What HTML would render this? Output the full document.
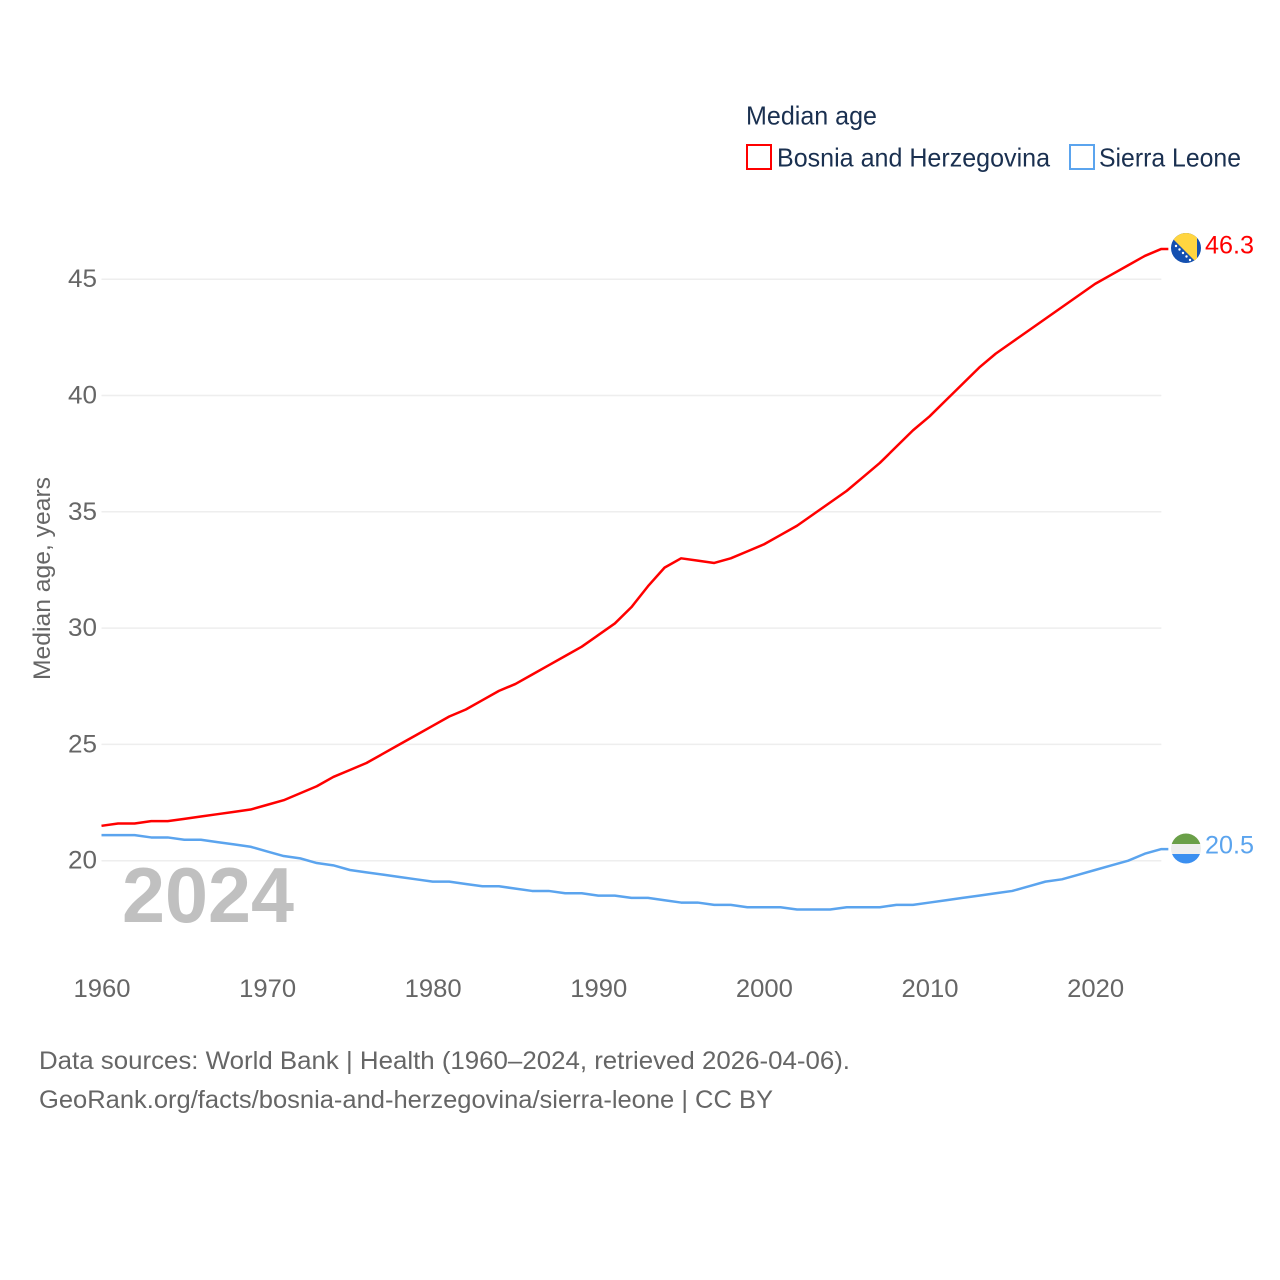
<!DOCTYPE html>
<html lang="en">
<head>
<meta charset="utf-8">
<title>Median age: Bosnia and Herzegovina and Sierra Leone</title>
<style>
html,body{margin:0;padding:0;background:#fff;}
svg{display:block;font-family:"Liberation Sans",sans-serif;}
</style>
</head>
<body>
<svg id="chart" width="1280" height="1280" viewBox="0 0 1280 1280" xmlns="http://www.w3.org/2000/svg">
  <defs>
    <clipPath id="clip-ba"><circle cx="1186" cy="248" r="15"/></clipPath>
    <clipPath id="clip-sl"><circle cx="1186" cy="848.5" r="15"/></clipPath>
  </defs>
  <rect width="1280" height="1280" fill="#ffffff"/>

  <text x="746" y="124.500" font-size="26" fill="#1a3050" textLength="131" lengthAdjust="spacingAndGlyphs">Median age</text>
  <g>
    <rect x="747" y="145" width="24" height="24" fill="none" stroke="#ff0000" stroke-width="2"/>
    <text x="777" y="166.500" font-size="26" fill="#1a3050" textLength="273" lengthAdjust="spacingAndGlyphs">Bosnia and Herzegovina</text>
  </g>
  <g>
    <rect x="1070" y="145" width="24" height="24" fill="none" stroke="#5ba4ee" stroke-width="2"/>
    <text x="1099" y="166.500" font-size="26" fill="#1a3050" textLength="142" lengthAdjust="spacingAndGlyphs">Sierra Leone</text>
  </g>

  <text transform="translate(50,680) rotate(-90)" x="0" y="0" font-size="24" fill="#666666" textLength="203" lengthAdjust="spacingAndGlyphs">Median age, years</text>

  <g id="grid"></g>
  <g id="y-ticks"></g>
  <g id="x-ticks"></g>

  <text x="122" y="922" font-size="78" font-weight="700" fill="#c0c0c0" textLength="172" lengthAdjust="spacingAndGlyphs">2024</text>

  <g id="series"></g>

  <g clip-path="url(#clip-ba)">
    <rect x="1171" y="233" width="30" height="30" fill="#1450b0"/>
    <polygon points="1164,230 1197,230 1197,263" fill="#ffd540"/>
    <g fill="#ffffff">
      <circle cx="1176" cy="246" r="1.2"/><circle cx="1179.500" cy="249.500" r="1.2"/><circle cx="1183" cy="253" r="1.2"/><circle cx="1186.500" cy="256.500" r="1.2"/><circle cx="1190" cy="260" r="1.2"/>
    </g>
  </g>
  <g clip-path="url(#clip-sl)">
    <rect x="1171" y="833" width="30" height="11" fill="#6a9f48"/>
    <rect x="1171" y="844" width="30" height="10" fill="#eeeeee"/>
    <rect x="1171" y="854" width="30" height="11" fill="#3b8ff0"/>
  </g>

  <text x="39" y="1069" font-size="25" fill="#666666" textLength="811" lengthAdjust="spacingAndGlyphs">Data sources: World Bank | Health (1960–2024, retrieved 2026-04-06).</text>
  <text x="39" y="1108" font-size="25" fill="#666666" textLength="734" lengthAdjust="spacingAndGlyphs">GeoRank.org/facts/bosnia-and-herzegovina/sierra-leone | CC BY</text>
</svg>

<script>
const years = [1960,1961,1962,1963,1964,1965,1966,1967,1968,1969,1970,1971,1972,1973,1974,1975,1976,1977,1978,1979,1980,1981,1982,1983,1984,1985,1986,1987,1988,1989,1990,1991,1992,1993,1994,1995,1996,1997,1998,1999,2000,2001,2002,2003,2004,2005,2006,2007,2008,2009,2010,2011,2012,2013,2014,2015,2016,2017,2018,2019,2020,2021,2022,2023,2024];
const bosnia = [21.5,21.6,21.6,21.7,21.7,21.8,21.9,22.0,22.1,22.2,22.4,22.6,22.9,23.2,23.6,23.9,24.2,24.6,25.0,25.4,25.8,26.2,26.5,26.9,27.3,27.6,28.0,28.4,28.8,29.2,29.7,30.2,30.9,31.8,32.6,33.0,32.9,32.8,33.0,33.3,33.6,34.0,34.4,34.9,35.4,35.9,36.5,37.1,37.8,38.5,39.1,39.8,40.5,41.2,41.8,42.3,42.8,43.3,43.8,44.3,44.8,45.2,45.6,46.0,46.3];
const sierraLeone = [21.1,21.1,21.1,21.0,21.0,20.9,20.9,20.8,20.7,20.6,20.4,20.2,20.1,19.9,19.8,19.6,19.5,19.4,19.3,19.2,19.1,19.1,19.0,18.9,18.9,18.8,18.7,18.7,18.6,18.6,18.5,18.5,18.4,18.4,18.3,18.2,18.2,18.1,18.1,18.0,18.0,18.0,17.9,17.9,17.9,18.0,18.0,18.0,18.1,18.1,18.2,18.3,18.4,18.5,18.6,18.7,18.9,19.1,19.2,19.4,19.6,19.8,20.0,20.3,20.5];
const yTicks = [20,25,30,35,40,45];
const xTicks = [1960,1970,1980,1990,2000,2010,2020];

const NS = 'http://www.w3.org/2000/svg';
const xScale = function (year) { return 101.5 + (year - 1960) * 16.56; };
const yScale = function (value) { return 860.7 - (value - 20) * 23.26; };
const lastX = xScale(years[years.length - 1]);

const grid = document.getElementById('grid');
const yGroup = document.getElementById('y-ticks');
const xGroup = document.getElementById('x-ticks');
const seriesGroup = document.getElementById('series');
const root = document.getElementById('chart');

yTicks.forEach(function (tick) {
  const line = document.createElementNS(NS, 'line');
  
  
  line.setAttribute('x1', 101.5);
  line.setAttribute('x2', lastX);
  line.setAttribute('y1', yScale(tick));
  line.setAttribute('y2', yScale(tick));
  line.setAttribute('stroke', '#eeeeee');
  line.setAttribute('stroke-width', '1.5');
  grid.appendChild(line);

  const label = document.createElementNS(NS, 'text');
  
  
  label.setAttribute('x', 68);
  label.setAttribute('y', yScale(tick) + 8);
  label.setAttribute('font-size', '25');
  label.setAttribute('fill', '#666666');
  label.setAttribute('textLength', '29');
  label.setAttribute('lengthAdjust', 'spacingAndGlyphs');
  label.textContent = String(tick);
  yGroup.appendChild(label);
});

xTicks.forEach(function (tick) {
  const label = document.createElementNS(NS, 'text');
  
  
  label.setAttribute('x', xScale(tick) - 28);
  label.setAttribute('y', 997);
  label.setAttribute('font-size', '25');
  label.setAttribute('fill', '#666666');
  label.setAttribute('textLength', '57');
  label.setAttribute('lengthAdjust', 'spacingAndGlyphs');
  label.textContent = String(tick);
  xGroup.appendChild(label);
});

function drawSeries(values, color, slug) {
  const points = values.map(function (value, i) {
    return xScale(years[i]).toFixed(2) + ',' + yScale(value).toFixed(2);
  });
  const lastValue = values[values.length - 1];
  points.push((lastX + 7).toFixed(2) + ',' + yScale(lastValue).toFixed(2));

  const line = document.createElementNS(NS, 'polyline');
  
  
  line.setAttribute('points', points.join(' '));
  line.setAttribute('fill', 'none');
  line.setAttribute('stroke', color);
  line.setAttribute('stroke-width', '2.5');
  line.setAttribute('stroke-linejoin', 'round');
  seriesGroup.appendChild(line);

  const label = document.createElementNS(NS, 'text');
  
  
  label.setAttribute('x', 1205);
  label.setAttribute('y', yScale(lastValue) + 4.5);
  label.setAttribute('font-size', '25');
  label.setAttribute('fill', color);
  label.setAttribute('textLength', '49');
  label.setAttribute('lengthAdjust', 'spacingAndGlyphs');
  label.textContent = lastValue.toFixed(1);
  root.appendChild(label);
}

drawSeries(bosnia, '#ff0000', 'bosnia');
drawSeries(sierraLeone, '#5ba4ee', 'sierra-leone');
</script>
</body>
</html>
